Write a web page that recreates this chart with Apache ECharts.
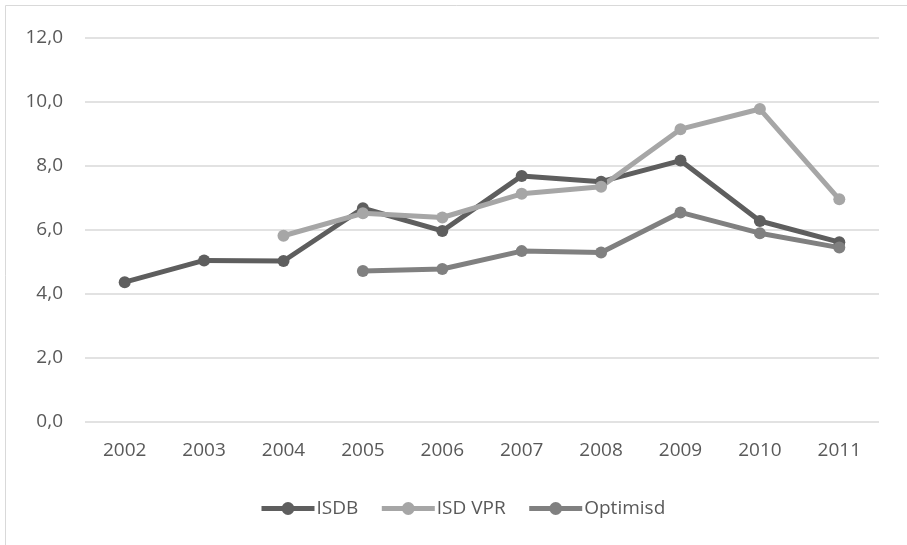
<!DOCTYPE html>
<html>
<head>
<meta charset="utf-8">
<script src="https://cdn.jsdelivr.net/npm/echarts@6/dist/echarts.min.js"></script>
<style>
  html, body { margin: 0; padding: 0; background: #fff; }
  #chart { width: 907px; height: 545px; }
</style>
</head>
<body>
<div id="chart"></div>
<script>
// Years on the category axis
const years = ['2002', '2003', '2004', '2005', '2006', '2007', '2008', '2009', '2010', '2011'];

// Series values (null where a series has no data)
const isdb     = [4.37, 5.05, 5.03, 6.68, 5.97, 7.69, 7.51, 8.17, 6.28, 5.62];
const isdVpr   = [null, null, 5.82, 6.52, 6.39, 7.13, 7.35, 9.15, 9.78, 6.96];
const optimisd = [null, null, null, 4.72, 4.78, 5.34, 5.30, 6.55, 5.90, 5.45];

const seriesNames = ['ISDB', 'ISD VPR', 'Optimisd'];
const seriesColors = ['#5e5e5e', '#a6a6a6', '#808080'];

const FONT = '"Open Sans", Lato, sans-serif';
const FONT_SIZE = 19;

function lineSeries(name, data, color) {
  return {
    name: name,
    type: 'line',
    data: data,
    connectNulls: false,
    symbol: 'circle',
    symbolSize: 12,
    lineStyle: { width: 5, color: color },
    itemStyle: { color: color },
    emphasis: { disabled: true }
  };
}

const chart = echarts.init(document.getElementById('chart'), null, { renderer: 'canvas' });
chart.setOption({
  animation: false,
  backgroundColor: '#ffffff',
  graphic: [{
    type: 'rect',
    shape: { x: 5.5, y: 5.5, width: 1200, height: 1200 },
    style: { fill: 'none', stroke: '#d9d9d9', lineWidth: 1 },
    silent: true
  }],
  grid: { left: 85, right: 28, top: 38, bottom: 123, containLabel: false },
  xAxis: {
    type: 'category',
    data: years,
    boundaryGap: true,
    axisLine: { show: false },
    axisTick: { show: false },
    axisLabel: { color: '#595959', fontSize: FONT_SIZE, fontFamily: FONT, margin: 19 }
  },
  yAxis: {
    type: 'value',
    min: 0,
    max: 12,
    interval: 2,
    axisLine: { show: false },
    axisTick: { show: false },
    splitLine: { lineStyle: { color: '#d9d9d9', width: 1.5 } },
    axisLabel: {
      color: '#595959', fontSize: FONT_SIZE, fontFamily: FONT, margin: 22,
      formatter: v => v.toFixed(1).replace('.', ',')
    }
  },
  legend: {
    data: seriesNames,
    left: 254,
    top: 494,
    itemWidth: 53,
    itemHeight: 16,
    itemGap: 21,
    lineStyle: { width: 5 },
    textStyle: { color: '#595959', fontSize: FONT_SIZE, fontFamily: FONT, padding: [0, 0, 0, -3] }
  },
  series: [
    lineSeries(seriesNames[0], isdb, seriesColors[0]),
    lineSeries(seriesNames[1], isdVpr, seriesColors[1]),
    lineSeries(seriesNames[2], optimisd, seriesColors[2])
  ]
});
</script>
</body>
</html>
